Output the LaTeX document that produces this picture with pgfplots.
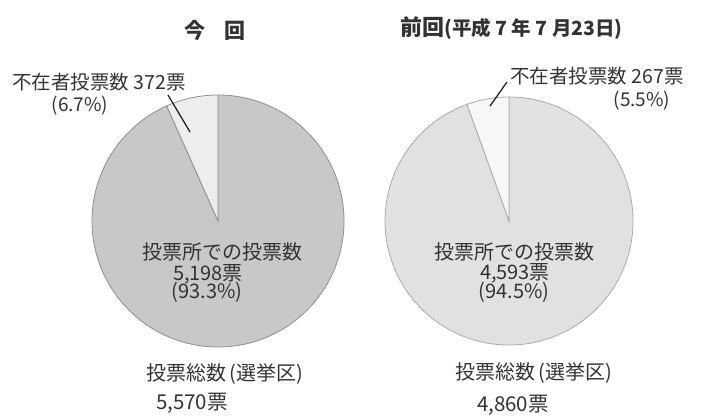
\documentclass[border=0pt]{standalone}
\usepackage{fontspec}
\setmainfont{Noto Sans CJK JP}
\usepackage{pgfplots}
\pgfplotsset{compat=1.18}

\definecolor{lmain}{HTML}{C8C8C8}
\definecolor{lsmall}{HTML}{EDEDED}
\definecolor{ledge}{HTML}{8E8E8E}
\definecolor{rmain}{HTML}{E1E1E1}
\definecolor{rsmall}{HTML}{F7F7F7}
\definecolor{redge}{HTML}{ABABAB}
\definecolor{txt}{HTML}{333333}

% votes: absentee / at the polling stations
\def\absL{372}\def\polL{5198}
\def\absR{267}\def\polR{4593}
\pgfmathsetmacro\angL{90+360*(\absL/(\absL+\polL))}
\pgfmathsetmacro\angR{90+360*(\absR/(\absR+\polR))}

\newcommand{\fs}[1]{\fontsize{#1bp}{#1bp}\selectfont}

\begin{document}
\begin{tikzpicture}[x=1bp,y=1bp]
\path[use as bounding box] (0,0) rectangle (701,416);

% left pie (this time)
\begin{axis}[hide axis, x=126bp, y=126bp, xmin=-1, xmax=1, ymin=-1, ymax=1,
    at={(218bp,195bp)}, anchor=origin, clip=false]
\fill[lmain, draw=ledge, line width=0.8bp] (axis cs:0,0) -- (axis cs:0,1)
    arc[start angle=90, end angle=\angL-360, radius=126bp] -- cycle;
\fill[lsmall, draw=ledge, line width=0.8bp] (axis cs:0,0) -- (axis cs:0,1)
    arc[start angle=90, end angle=\angL, radius=126bp] -- cycle;
\end{axis}

% right pie (last time)
\begin{axis}[hide axis, x=124bp, y=124bp, xmin=-1, xmax=1, ymin=-1, ymax=1,
    at={(509bp,195bp)}, anchor=origin, clip=false]
\fill[rmain, draw=redge, line width=0.8bp] (axis cs:0,0) -- (axis cs:0,1)
    arc[start angle=90, end angle=\angR-360, radius=124bp] -- cycle;
\fill[rsmall, draw=redge, line width=0.8bp] (axis cs:0,0) -- (axis cs:0,1)
    arc[start angle=90, end angle=\angR, radius=124bp] -- cycle;
\end{axis}

% leader lines
\draw[line width=1.3bp, black!85] (168,321) -- (190,284);
\draw[line width=1.3bp, black!85] (507,334) -- (490,310);

\begin{scope}[every node/.style={inner sep=0pt, text=txt}]
% left texts
\node at (215,386) {\fs{21}\bfseries 今\hspace{0.9em}回};
\node[anchor=west] at (12,334) {\fs{19.5}不在者投票数 372票};
\node at (80,310) {\fs{19}(6.7\%)};
\node at (222,164) {\fs{20}投票所での投票数};
\node at (208,142) {\fs{20}5,198票};
\node at (207,124) {\fs{20}(93.3\%)};
\node at (225,42) {\fs{20}投票総数\hspace{0.15em}(選挙区)};
\node at (192,13) {\fs{20.5}5,570票};

% right texts
\node[anchor=west] at (400,388) {\bfseries\fs{22}前回\fs{19.5}(平成 7 年 7 月23日)};
\node[anchor=west] at (510,340) {\fs{19.5}不在者投票数 267票};
\node at (642,315) {\fs{19}(5.5\%)};
\node at (514,164) {\fs{20}投票所での投票数};
\node at (515,143) {\fs{20}4,593票};
\node at (514,124) {\fs{20}(94.5\%)};
\node at (534,43) {\fs{20}投票総数\hspace{0.15em}(選挙区)};
\node at (513,11) {\fs{20.5}4,860票};
\end{scope}
\end{tikzpicture}
\end{document}
